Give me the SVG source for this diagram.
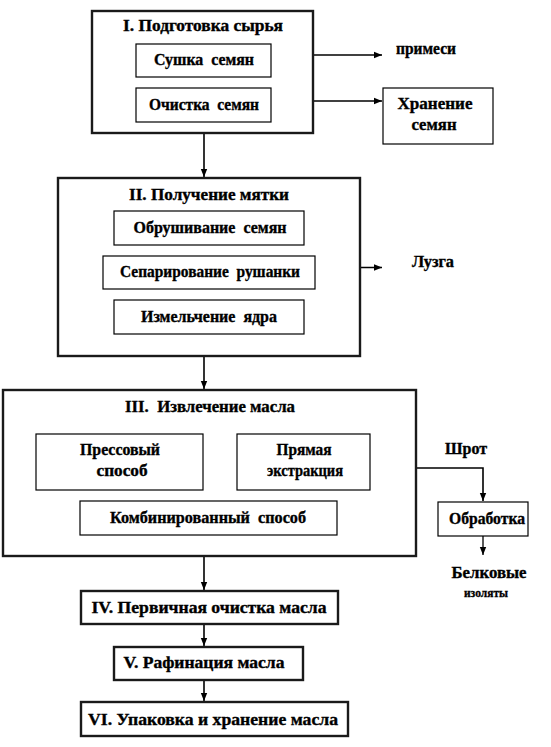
<svg xmlns="http://www.w3.org/2000/svg" width="551" height="747" viewBox="0 0 551 747">
<defs>
<marker id="ah" viewBox="0 0 8 8" refX="8" refY="4" markerWidth="8" markerHeight="8" markerUnits="userSpaceOnUse" orient="auto">
<path d="M0,0.8 L8,4 L0,7.2 Z" fill="#000"/>
</marker>
<style>
.outer{fill:#fff;stroke:#1a1a1a;stroke-width:2.4}
.inner{fill:#fff;stroke:#000;stroke-width:1.2}
.c{fill:none;stroke:#000;stroke-width:1.3}
.cv{fill:none;stroke:#000;stroke-width:1.6}
text{font-family:"Times New Roman","Liberation Serif","DejaVu Serif",serif;font-weight:700;font-size:16px;text-anchor:middle;fill:#000;stroke:#000;stroke-width:0.35}
</style>
</defs>
<rect width="551" height="747" fill="#fff"/>

<g id="connectors">
<line class="c" x1="271" y1="55" x2="382" y2="55" marker-end="url(#ah)"/>
<line class="c" x1="271" y1="101" x2="382" y2="101" marker-end="url(#ah)"/>
<line class="cv" x1="204" y1="134" x2="204" y2="177" marker-end="url(#ah)"/>
<line class="c" x1="315" y1="267.5" x2="382" y2="267.5" marker-end="url(#ah)"/>
<line class="cv" x1="204" y1="357" x2="204" y2="389" marker-end="url(#ah)"/>
<polyline class="cv" points="417,468 483,468 483,501" marker-end="url(#ah)"/>
<line class="c" x1="483" y1="536" x2="483" y2="555" marker-end="url(#ah)"/>
<line class="cv" x1="204" y1="557" x2="204" y2="590" marker-end="url(#ah)"/>
<line class="cv" x1="204" y1="625" x2="204" y2="646" marker-end="url(#ah)"/>
<line class="cv" x1="204" y1="681" x2="204" y2="701" marker-end="url(#ah)"/>
</g>

<g id="stage1">
<rect class="outer" x="92" y="11" width="221" height="122"/>
<text x="203" y="31" textLength="160" lengthAdjust="spacingAndGlyphs">I. Подготовка сырья</text>
</g>
<g id="drying">
<rect class="inner" x="136" y="44" width="135" height="33"/>
<text x="204" y="65" textLength="100" lengthAdjust="spacingAndGlyphs">Сушка&#160; семян</text>
</g>
<g id="cleaning">
<rect class="inner" x="136" y="88" width="135" height="34"/>
<text x="204" y="110" textLength="110" lengthAdjust="spacingAndGlyphs">Очистка&#160; семян</text>
</g>
<g id="impurities">
<text x="426" y="54" textLength="60" lengthAdjust="spacingAndGlyphs">примеси</text>
</g>
<g id="storage-seeds">
<rect class="inner" x="383" y="88" width="110" height="56"/>
<text x="435" y="109" textLength="75" lengthAdjust="spacingAndGlyphs">Хранение</text>
<text x="434" y="130" textLength="45" lengthAdjust="spacingAndGlyphs">семян</text>
</g>

<g id="stage2">
<rect class="outer" x="58" y="178" width="302" height="178"/>
<text x="209" y="200" textLength="160" lengthAdjust="spacingAndGlyphs">II. Получение мятки</text>
</g>
<g id="hulling">
<rect class="inner" x="114" y="211" width="190" height="34"/>
<text x="210" y="233" textLength="153" lengthAdjust="spacingAndGlyphs">Обрушивание&#160; семян</text>
</g>
<g id="separation">
<rect class="inner" x="103" y="256" width="212" height="33"/>
<text x="210" y="277" textLength="180" lengthAdjust="spacingAndGlyphs">Сепарирование&#160; рушанки</text>
</g>
<g id="grinding">
<rect class="inner" x="114" y="300" width="190" height="34"/>
<text x="209" y="322" textLength="136" lengthAdjust="spacingAndGlyphs">Измельчение&#160; ядра</text>
</g>
<g id="husk">
<text x="433" y="267" textLength="42" lengthAdjust="spacingAndGlyphs">Лузга</text>
</g>

<g id="stage3">
<rect class="outer" x="3" y="390" width="413" height="166"/>
<text x="210" y="412" textLength="170" lengthAdjust="spacingAndGlyphs">III.&#160; Извлечение масла</text>
</g>
<g id="pressing">
<rect class="inner" x="36" y="434" width="167" height="56"/>
<text x="120" y="455" textLength="80" lengthAdjust="spacingAndGlyphs">Прессовый</text>
<text x="122" y="476" textLength="51" lengthAdjust="spacingAndGlyphs">способ</text>
</g>
<g id="extraction">
<rect class="inner" x="237" y="434" width="133" height="56"/>
<text x="304" y="455" textLength="55" lengthAdjust="spacingAndGlyphs">Прямая</text>
<text x="305" y="476" textLength="76" lengthAdjust="spacingAndGlyphs">экстракция</text>
</g>
<g id="combined">
<rect class="inner" x="80" y="501" width="257" height="34"/>
<text x="208" y="523" textLength="196" lengthAdjust="spacingAndGlyphs">Комбинированный&#160; способ</text>
</g>
<g id="meal">
<text x="466" y="454" textLength="42" lengthAdjust="spacingAndGlyphs">Шрот</text>
</g>
<g id="processing">
<rect class="inner" x="438" y="502" width="90" height="34"/>
<text x="487" y="524" textLength="76" lengthAdjust="spacingAndGlyphs">Обработка</text>
</g>
<g id="isolates">
<text x="489" y="578" textLength="75" lengthAdjust="spacingAndGlyphs">Белковые</text>
<text style="font-size:13px" x="486" y="597" textLength="44" lengthAdjust="spacingAndGlyphs">изоляты</text>
</g>

<g id="stage4">
<rect class="outer" x="81" y="591" width="257" height="33"/>
<text x="209" y="613" textLength="235" lengthAdjust="spacingAndGlyphs">IV. Первичная очистка масла</text>
</g>
<g id="stage5">
<rect class="outer" x="114" y="647" width="189" height="33"/>
<text x="204" y="668" textLength="161" lengthAdjust="spacingAndGlyphs">V. Рафинация масла</text>
</g>
<g id="stage6">
<rect class="outer" x="81" y="702" width="267" height="34"/>
<text x="213" y="725" textLength="250" lengthAdjust="spacingAndGlyphs">VI. Упаковка и хранение масла</text>
</g>
</svg>
